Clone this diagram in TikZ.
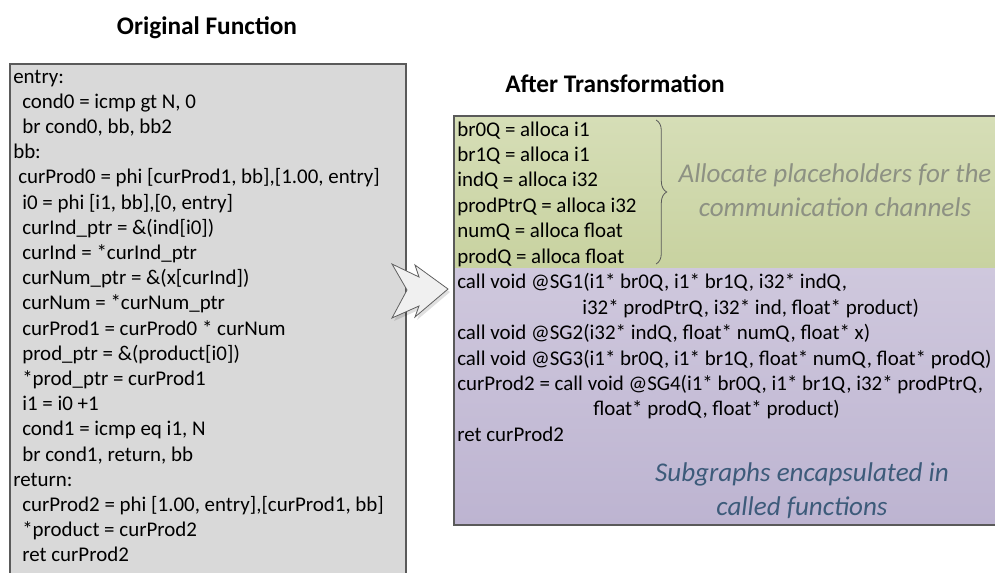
\documentclass[tikz,border=0pt]{standalone}
\usepackage{fontspec}
\setmainfont{Carlito}
\usetikzlibrary{decorations.pathreplacing}
\definecolor{boxgray}{HTML}{D9D9D9}
\definecolor{edgegray}{HTML}{5A5A5A}
\definecolor{greentop}{HTML}{D6DEB7}
\definecolor{greenbot}{HTML}{C8D2A0}
\definecolor{purptop}{HTML}{CFC8DD}
\definecolor{purpbot}{HTML}{BDB4D1}
\definecolor{notegray}{HTML}{8D9183}
\definecolor{noteblue}{HTML}{3D5B7A}
\definecolor{arrowfill}{HTML}{F0F0F0}
\begin{document}
\begin{tikzpicture}[x=0.75pt,y=-0.75pt,
  code/.style={anchor=base west, inner sep=0pt, font=\fontsize{15.7}{19}\selectfont},
  heading/.style={inner sep=0pt, font=\fontsize{19}{22}\selectfont\bfseries},
  note/.style={inner sep=0pt, align=center, font=\fontsize{20.3}{25.5}\selectfont\itshape},
]
\useasboundingbox (0,0) rectangle (995,572);
\clip (0,0) rectangle (995,572);

% ---- original function ----
\node[heading] (origtitle) at (207,28) {Original Function};
\path[fill=boxgray, draw=edgegray, line width=0.9pt] (10,64) rectangle (406,600);
\foreach \x/\t [count=\i from 0] in {
  13/{entry:},
  22/{cond0 = icmp gt N, 0},
  22/{br cond0, bb, bb2},
  13/{bb:},
  18/{curProd0 = phi [curProd1, bb],[1.00, entry]},
  22/{i0 = phi [i1, bb],[0, entry]},
  22/{curInd\_ptr = \&(ind[i0])},
  22/{curInd = *curInd\_ptr},
  22/{curNum\_ptr = \&(x[curInd])},
  22/{curNum = *curNum\_ptr},
  22/{curProd1 = curProd0 * curNum},
  22/{prod\_ptr = \&(product[i0])},
  22/{*prod\_ptr = curProd1},
  22/{i1 = i0 +1},
  22/{cond1 = icmp eq i1, N},
  22/{br cond1, return, bb},
  13/{return:},
  22/{curProd2 = phi [1.00, entry],[curProd1, bb]},
  22/{*product = curProd2},
  22/{ret curProd2}}
  \node[code] (src\i) at (\x, 83+\i*25.2) {\t};

% ---- transformation arrow ----
\path[fill=black, opacity=0.12]
  (394,267) -- (421,280) -- (417,268) -- (450,292) -- (417,320) -- (421,309) -- (394,321) -- (409,293) -- cycle;
\draw[fill=arrowfill, draw=gray!75!black, line width=0.6pt, line join=miter]
  (392,264) -- (419,277) -- (415,265) -- (448,289) -- (415,317) -- (419,306) -- (392,318) -- (407,290) -- cycle;

% ---- transformed function ----
\node[heading] (aftertitle) at (615,84) {After Transformation};
\shade[top color=greentop, bottom color=greenbot] (454,116) rectangle (1000,268);
\shade[top color=purptop, bottom color=purpbot] (454,268) rectangle (1000,525);
\draw[edgegray, line width=0.9pt] (1000,116) -- (454,116) -- (454,525) -- (1000,525);

\foreach \x/\t [count=\i from 0] in {
  457/{br0Q = alloca i1},
  457/{br1Q = alloca i1},
  457/{indQ = alloca i32},
  457/{prodPtrQ = alloca i32},
  457/{numQ = alloca float},
  457/{prodQ = alloca float},
  457/{call void @SG1(i1* br0Q, i1* br1Q, i32* indQ,},
  582/{i32* prodPtrQ, i32* ind, float* product)},
  457/{call void @SG2(i32* indQ, float* numQ, float* x)},
  457/{call void @SG3(i1* br0Q, i1* br1Q, float* numQ, float* prodQ)},
  457/{curProd2 = call void @SG4(i1* br0Q, i1* br1Q, i32* prodPtrQ,},
  593/{float* prodQ, float* product)},
  457/{ret curProd2}}
  \node[code] (dst\i) at (\x, 136+\i*25.45) {\t};

\draw[decorate, decoration={brace, amplitude=8pt, aspect=0.5}, edgegray, line width=0.6pt]
  (656,120) -- (656,264);
\node[note, text=notegray] (allocnote) at (835,190)
  {Allocate placeholders for the\\communication channels};
\node[note, text=noteblue] (subnote) at (802,491)
  {Subgraphs encapsulated in\\called functions};
\end{tikzpicture}
\end{document}
